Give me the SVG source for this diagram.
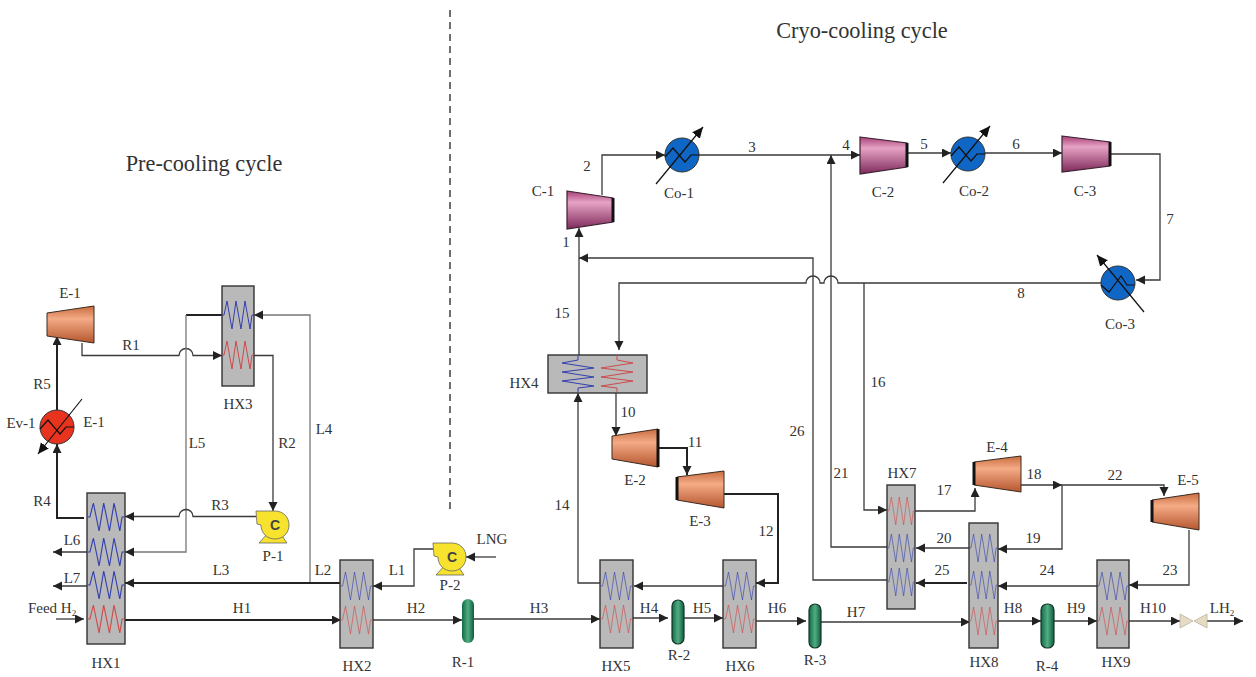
<svg xmlns="http://www.w3.org/2000/svg" width="1256" height="677" viewBox="0 0 1256 677">
<style>
text{font-family:"Liberation Serif","Times New Roman",serif;font-size:15px;fill:#333;text-anchor:middle}
.title{font-size:22.3px}
.pc{font-size:14px;font-weight:bold;font-family:"Liberation Sans",sans-serif;fill:#444}
.c{fill:none;stroke:#3a3a3a;stroke-width:1.3;marker-end:url(#arrow)}
.n{fill:none;stroke:#3a3a3a;stroke-width:1.3}
.g{stroke:#777}
.b{stroke-width:2;stroke:#222}
.hx{fill:#b9b9b9;stroke:#333;stroke-width:1.4}
.blue{fill:none;stroke:#3340b0;stroke-width:1}
.red{fill:none;stroke:#cf4a4a;stroke-width:1}
.pale{stroke-opacity:.7;stroke-width:.9}
.comp{fill:url(#pink);stroke:#3a2030;stroke-width:1.2}
.turb{fill:url(#orange);stroke:#3a2a20;stroke-width:1}
.edge{stroke:#111;stroke-width:3;fill:none}
.vessel{fill:url(#green);stroke:#17352a;stroke-width:1.2}
.ln{fill:none;stroke:#111;stroke-width:1.2}
.pump{fill:#f7e22e;stroke:#666;stroke-width:.8}
.valve{fill:#e6dcc4;stroke:#b9b3a0;stroke-width:.8}
</style>
<defs>
<marker id="arrow" markerUnits="userSpaceOnUse" markerWidth="10" markerHeight="10" refX="9" refY="4.5" orient="auto"><path d="M0 0L9 4.5L0 9z" fill="#222"/></marker>
<marker id="big" markerUnits="userSpaceOnUse" markerWidth="14" markerHeight="12" refX="11" refY="5" orient="auto"><path d="M0 0L11 5L0 10z" fill="#111"/></marker>
<linearGradient id="pink" x1="0" y1="0" x2="0" y2="1"><stop offset="0" stop-color="#a83f78"/><stop offset=".3" stop-color="#e6a3c4"/><stop offset="1" stop-color="#7f2a5c"/></linearGradient>
<linearGradient id="orange" x1="0" y1="0" x2="0" y2="1"><stop offset="0" stop-color="#c96c3e"/><stop offset=".35" stop-color="#f4ab86"/><stop offset="1" stop-color="#b5562e"/></linearGradient>
<linearGradient id="green" x1="0" y1="0" x2="1" y2="0"><stop offset="0" stop-color="#116a45"/><stop offset=".5" stop-color="#52ad83"/><stop offset="1" stop-color="#0e5c3c"/></linearGradient>
<path id="zig" d="M-16 0H-14L-11 -14L-6 14L-2 -14L3 14L7 -14L12 14L14 0H16"/>
<path id="zigv" d="M0 0V5L-16 8L16 13L-16 17L16 22L-16 26L16 31L0 33V37"/>
<g id="pumpshape"><path class="pump" d="M3 32L12 22H24L31 32z"/><path class="pump" d="M0 0H19C27 0 33 6 33 14C33 22 27 28 19 28C11 28 5 22 5 14L1 13z"/></g>
</defs>

<path d="M450 10V512" fill="none" stroke="#333" stroke-width="1.4" stroke-dasharray="7 5"/>

<g id="connectors">
<path class="c" d="M82 343V355.500H179a7 7 0 0 1 14 0H222"/>
<path class="n b" d="M222 315H186"/>
<path class="c g" d="M186 315V552H125"/>
<path class="c g" d="M310 583V315H254"/>
<path class="c" d="M254 355.500H273V511"/>
<path class="c" d="M256 516.500H193a7 7 0 0 0 -14 0H125"/>
<path class="c b" d="M84 518H57V444"/>
<path class="c b" d="M57 410V336"/>
<path class="c" d="M87 552H53"/>
<path class="c" d="M87 586H53"/>
<path class="c" d="M56 619H84"/>
<path class="c b" d="M125 620H341"/>
<path class="c b" d="M341 583H125"/>
<path class="c" d="M433 549H414V586H373"/>
<path class="c" d="M496 557H466"/>
<path class="c" d="M373 620H462"/>
<path class="c" d="M474 619H600"/>
<path class="c" d="M633 618H668"/>
<path class="c" d="M684 618H723"/>
<path class="c" d="M756 621H806"/>
<path class="c" d="M821 622H970"/>
<path class="c" d="M998 621H1041"/>
<path class="c" d="M1054 621H1097"/>
<path class="c" d="M1129 621H1180"/>
<path class="c" d="M1207 621H1243"/>
<path class="c" d="M723 586H634"/>
<path class="c" d="M600 583H578V393"/>
<path class="c" d="M579 355V228"/>
<path class="c" d="M602 195V155H665"/>
<path class="c" d="M699 155H860"/>
<path class="c" d="M907 153H951"/>
<path class="c" d="M985 153H1062"/>
<path class="c" d="M1110 154H1160V280H1136"/>
<path class="c" d="M1101 283H838a7 7 0 0 0 -14 0H820a7 7 0 0 0 -14 0H619V350"/>
<path class="c" d="M887 580H813V258H579"/>
<path class="c" d="M887 547H831V155"/>
<path class="c" d="M864 283V510H887"/>
<path class="c" d="M616 392V436"/>
<path class="c b" d="M658 448H687V475"/>
<path class="c b" d="M724 494H778V583H756"/>
<path class="c" d="M915 511H975V488"/>
<path class="c" d="M1021 485H1062"/>
<path class="c" d="M1062 485H1164V496"/>
<path class="c" d="M1062 485V549H998"/>
<path class="c" d="M969 548H916"/>
<path class="c b" d="M967 583H916"/>
<path class="c" d="M1189 530V585H1129"/>
<path class="c" d="M1097 586H998"/>
</g>

<g id="HX1"><rect class="hx" x="87" y="493" width="38" height="151"/><use href="#zig" class="blue" transform="translate(106 517) scale(1.15 1)"/><use href="#zig" class="blue" transform="translate(106 552) scale(1.15 1)"/><use href="#zig" class="blue" transform="translate(106 585) scale(1.15 1)"/><use href="#zig" class="red" transform="translate(106 619) scale(1.15 1)"/><text x="106" y="668">HX1</text></g>
<g id="HX2"><rect class="hx" x="340" y="560" width="33" height="88"/><use href="#zig" class="blue pale" transform="translate(356.500 586)"/><use href="#zig" class="red pale" transform="translate(356.500 620)"/><text x="357" y="671">HX2</text></g>
<g id="HX3"><rect class="hx" x="222" y="286" width="32" height="100"/><use href="#zig" class="blue" transform="translate(238 315)"/><use href="#zig" class="red" transform="translate(238 355)"/><text x="238" y="409">HX3</text></g>
<g id="HX4"><rect class="hx" x="548" y="355" width="99" height="38"/><use href="#zigv" class="blue" transform="translate(578 355)"/><use href="#zigv" class="red" transform="translate(617 355) scale(-1 1)"/><text x="524" y="388">HX4</text></g>
<g id="HX5"><rect class="hx" x="600" y="560" width="33" height="88"/><use href="#zig" class="blue pale" transform="translate(616.500 586)"/><use href="#zig" class="red pale" transform="translate(616.500 619)"/><text x="616" y="671">HX5</text></g>
<g id="HX6"><rect class="hx" x="723" y="560" width="33" height="88"/><use href="#zig" class="blue pale" transform="translate(739.500 586)"/><use href="#zig" class="red pale" transform="translate(739.500 619)"/><text x="740" y="671">HX6</text></g>
<g id="HX7"><rect class="hx" x="887" y="485" width="28" height="124"/><use href="#zig" class="red pale" transform="translate(901 511) scale(.875 1)"/><use href="#zig" class="blue pale" transform="translate(901 548) scale(.875 1)"/><use href="#zig" class="blue pale" transform="translate(901 582) scale(.875 1)"/><text x="902" y="478">HX7</text></g>
<g id="HX8"><rect class="hx" x="969" y="523" width="29" height="125"/><use href="#zig" class="blue pale" transform="translate(983.500 548) scale(.9 1)"/><use href="#zig" class="blue pale" transform="translate(983.500 585) scale(.9 1)"/><use href="#zig" class="red pale" transform="translate(983.500 621) scale(.9 1)"/><text x="984" y="667">HX8</text></g>
<g id="HX9"><rect class="hx" x="1097" y="560" width="32" height="88"/><use href="#zig" class="blue pale" transform="translate(1113 586)"/><use href="#zig" class="red pale" transform="translate(1113 621)"/><text x="1116" y="667">HX9</text></g>

<g id="E-1a"><polygon points="47,313 94,306 94,343 47,336" class="turb" stroke="none"/><text x="70" y="298">E-1</text></g>
<g id="E-2"><polygon class="turb" points="612,436 658,429 658,467 612,459"/><path class="edge" d="M658 429V467"/><text x="635" y="485">E-2</text></g>
<g id="E-3"><polygon class="turb" points="677,477 724,471 724,508 677,500"/><path class="edge" d="M677 477V500"/><text x="700" y="526">E-3</text></g>
<g id="E-4"><polygon class="turb" points="974,462 1021,456 1021,492 974,485"/><path class="edge" d="M974 462V485"/><text x="997" y="452">E-4</text></g>
<g id="E-5"><polygon class="turb" points="1152,500 1199,493 1199,530 1152,522"/><path class="edge" d="M1152 500V522"/><text x="1188" y="485">E-5</text></g>

<g id="C-1"><polygon class="comp" points="567,191 613,198 613,222 567,229"/><path class="edge" d="M613 198V222"/><text x="543" y="196">C-1</text></g>
<g id="C-2"><polygon class="comp" points="860,137 907,143 907,167 860,174"/><path class="edge" d="M907 143V167"/><text x="883" y="197">C-2</text></g>
<g id="C-3"><polygon class="comp" points="1062,136 1110,142 1110,166 1062,172"/><path class="edge" d="M1110 142V166"/><text x="1085" y="196">C-3</text></g>

<g id="Ev-1"><circle cx="57" cy="427" r="17" fill="#e8341f" stroke="#333"/><path class="ln" d="M40 429L48 420L60 434L66 427H74"/><path class="ln" d="M82 399L38 454" marker-end="url(#big)"/><text x="21" y="428">Ev-1</text><text x="94" y="427">E-1</text></g>
<g id="Co-1"><circle cx="682" cy="155" r="17" fill="#0f66c4" stroke="#333"/><path class="ln" d="M665 157L673 148L685 162L691 155H699"/><path class="ln" d="M656 184L703 127" marker-end="url(#big)"/><text x="679" y="198">Co-1</text></g>
<g id="Co-2"><circle cx="968" cy="154" r="17" fill="#0f66c4" stroke="#333"/><path class="ln" d="M951 156L959 147L971 161L977 154H985"/><path class="ln" d="M943 183L990 126" marker-end="url(#big)"/><text x="974" y="196">Co-2</text></g>
<g id="Co-3"><circle cx="1118" cy="283" r="17" fill="#0f66c4" stroke="#333"/><path class="ln" d="M1101 285L1109 292L1121 276L1127 285H1135"/><path class="ln" d="M1144 312L1097 255" marker-end="url(#big)"/><text x="1120" y="329">Co-3</text></g>

<g id="P-1"><use href="#pumpshape" transform="translate(256 511)"/><text class="pc" x="275" y="530">C</text><text x="273" y="561">P-1</text></g>
<g id="P-2"><use href="#pumpshape" transform="translate(433 543)"/><text class="pc" x="452" y="562">C</text><text x="450" y="590">P-2</text></g>

<g id="R-1"><rect class="vessel" x="462" y="599" width="12" height="44" rx="6" style="stroke:none"/><text x="463" y="667">R-1</text></g>
<g id="R-2"><rect class="vessel" x="672" y="600" width="12" height="44" rx="6"/><text x="679" y="660">R-2</text></g>
<g id="R-3"><rect class="vessel" x="809" y="604" width="12" height="44" rx="6"/><text x="815" y="665">R-3</text></g>
<g id="R-4"><rect class="vessel" x="1041" y="604" width="13" height="44" rx="6"/><text x="1047" y="671">R-4</text></g>
<g id="valve"><polygon class="valve" points="1180,614 1193,621 1180,628"/><polygon class="valve" points="1207,614 1194,621 1207,628"/></g>

<g id="labels">
<text class="title" x="204" y="171">Pre-cooling cycle</text>
<text class="title" x="862" y="38">Cryo-cooling cycle</text>
<text x="131" y="350">R1</text><text x="42" y="389">R5</text><text x="42" y="506">R4</text>
<text x="287" y="448">R2</text><text x="220" y="510">R3</text>
<text x="197" y="448">L5</text><text x="324" y="434">L4</text>
<text x="72" y="545">L6</text><text x="72" y="583">L7</text>
<text x="221" y="575">L3</text><text x="323" y="575">L2</text><text x="397" y="575">L1</text>
<text x="52" y="613">Feed H<tspan dy="3" style="font-size:9px">2</tspan></text>
<text x="492" y="544">LNG</text>
<text x="242" y="613">H1</text><text x="416" y="613">H2</text><text x="539" y="613">H3</text><text x="649" y="613">H4</text><text x="702" y="613">H5</text><text x="777" y="613">H6</text><text x="856" y="617">H7</text><text x="1013" y="613">H8</text><text x="1076" y="613">H9</text><text x="1153" y="613">H10</text>
<text x="1222" y="613">LH<tspan dy="3" style="font-size:9px">2</tspan></text>
<text x="566" y="247">1</text><text x="587" y="171">2</text><text x="752" y="152">3</text><text x="846" y="150">4</text><text x="924" y="149">5</text><text x="1016" y="149">6</text><text x="1170" y="224">7</text><text x="1021" y="298">8</text>
<text x="628" y="417">10</text><text x="695" y="447">11</text><text x="766" y="536">12</text><text x="562" y="510">14</text><text x="562" y="318">15</text><text x="878" y="387">16</text>
<text x="944" y="495">17</text><text x="1034" y="479">18</text><text x="1033" y="543">19</text><text x="944" y="543">20</text><text x="841" y="478">21</text><text x="1115" y="480">22</text><text x="1170" y="575">23</text><text x="1047" y="575">24</text><text x="942" y="575">25</text><text x="797" y="436">26</text>
</g>
</svg>
